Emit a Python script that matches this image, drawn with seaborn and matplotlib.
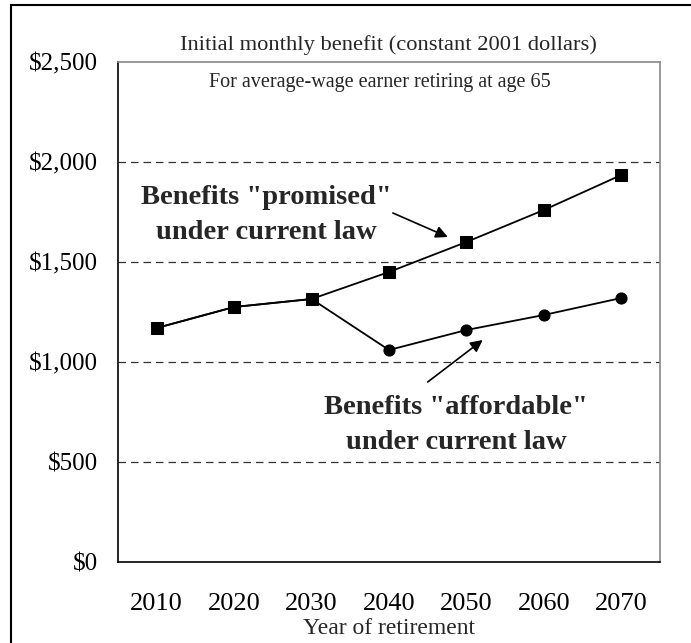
import numpy as np
import pandas as pd
import matplotlib
matplotlib.use('Agg')
import matplotlib.pyplot as plt
import seaborn as sns
from matplotlib.patches import Rectangle

# data
years = [2010, 2020, 2030, 2040, 2050, 2060, 2070]
promised = [1170, 1275, 1315, 1450, 1600, 1760, 1935]
affordable = [1170, 1275, 1315, 1060, 1160, 1235, 1320]
ytick_vals = [0, 500, 1000, 1500, 2000, 2500]
ytick_labels = ['$0', '$500', '$1,000', '$1,500', '$2,000', '$2,500']

df = pd.DataFrame({'Year': years * 2,
                   'Benefit': promised + affordable,
                   'Series': ['promised'] * len(years) + ['affordable'] * len(years)})

sns.set_style('white')
plt.rcParams['font.family'] = ['Liberation Serif', 'DejaVu Serif']

fig = plt.figure(figsize=(6.91, 6.43), dpi=100)
ax = fig.add_axes([118 / 691, 1 - 562 / 643, 542 / 691, 500 / 643])

sns.lineplot(data=df, x='Year', y='Benefit', hue='Series', style='Series',
             markers={'promised': 's', 'affordable': 'o'}, dashes=False,
             palette={'promised': 'black', 'affordable': 'black'},
             markersize=8, linewidth=1.3, markeredgecolor='black',
             legend=False, ax=ax, zorder=3)

ax.set_xlim(2005, 2075)
ax.set_ylim(0, 2500)
ax.set_yticks(ytick_vals)
ax.set_yticklabels(ytick_labels, fontsize=18)
xt = list(range(2005, 2080, 5))
ax.set_xticks(xt)
ax.set_xticklabels([str(t) if t % 10 == 0 else '' for t in xt], fontsize=19)
ax.tick_params(axis='y', direction='inout', length=11, width=1, pad=9, colors='black')
ax.tick_params(axis='x', direction='out', length=5, width=1, pad=17.5, colors='black')
ax.set_xlabel('Year of retirement', fontsize=17, labelpad=2)
ax.set_ylabel('')

for v in [500, 1000, 1500, 2000]:
    ax.axhline(v, color='#333333', linestyle=(0, (6, 4)), linewidth=0.9, zorder=1)

for s in ['left', 'bottom']:
    ax.spines[s].set_color('black')
    ax.spines[s].set_linewidth(1.2)
for s in ['top', 'right']:
    ax.spines[s].set_color('#888888')
    ax.spines[s].set_linewidth(1.2)

fig.text(388 / 691, 1 - 45 / 643, 'Initial monthly benefit (constant 2001 dollars)',
         ha='center', va='center', fontsize=16.2)
ax.text(0.483, 0.958, 'For average-wage earner retiring at age 65', transform=ax.transAxes,
        ha='center', va='center', fontsize=14.5)

# labels and arrows
ax.text(2024.1, 1735, 'Benefits "promised"\nunder current law', ha='center', va='center',
        fontsize=20.5, fontweight='bold', linespacing=1.55)
ax.annotate('', xy=(2047.6, 1625), xytext=(2040.5, 1745),
            arrowprops=dict(arrowstyle='-|>', color='black', lw=1.2, mutation_scale=18,
                            shrinkA=0, shrinkB=0))
ax.text(2048.7, 685, 'Benefits "affordable"\nunder current law', ha='center', va='center',
        fontsize=20.5, fontweight='bold', linespacing=1.55)
ax.annotate('', xy=(2052.1, 1110), xytext=(2045.0, 900),
            arrowprops=dict(arrowstyle='-|>', color='black', lw=1.2, mutation_scale=18,
                            shrinkA=0, shrinkB=0))

fig.patches.append(Rectangle((11 / 691, -0.1), 1.2, 1.1 - 5 / 643,
                             transform=fig.transFigure, fill=False,
                             edgecolor='black', linewidth=1.5))

fig.savefig('out.png', dpi=100)
